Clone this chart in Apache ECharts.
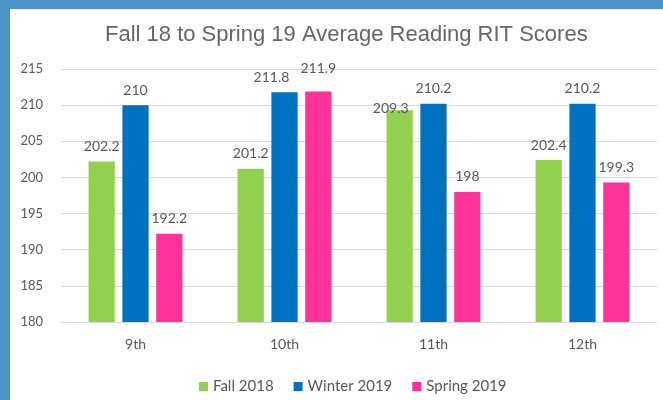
<!DOCTYPE html>
<html>
<head>
<meta charset="utf-8">
<script src="https://cdn.jsdelivr.net/npm/echarts@6/dist/echarts.min.js"></script>
<style>
  html, body { margin: 0; padding: 0; background: #fff; }
  #wrap { position: relative; width: 663px; height: 400px; }
  #chart { position: absolute; left: 0; top: 0; width: 663px; height: 400px; }
  .edge { position: absolute; background: #4a92c8; }
</style>
</head>
<body>
<div id="wrap">
  <div id="chart"></div>
  <div class="edge" style="left:0;top:0;width:663px;height:9px"></div>
  <div class="edge" style="left:0;top:0;width:10px;height:400px"></div>
</div>
<script>
  // grades on the x axis
  const grades = ['9th', '10th', '11th', '12th']
  // average RIT per term
  const fall2018 = [202.2, 201.2, 209.3, 202.4]
  const winter2019 = [210, 211.8, 210.2, 210.2]
  const spring2019 = [192.2, 211.9, 198, 199.3]
  const seriesNames = ['Fall 2018', 'Winter 2019', 'Spring 2019']
  const colors = ['#92d050', '#0070c0', '#ff3399']

  const font = 'Lato, "Open Sans", sans-serif'
  const grey = '#595959'

  // the original nudged a few labels so they don't collide
  const nudges = [
    { 2: [-9, 13] },
    { 1: [-13, 0] },
    { 1: [0, -8] }
  ]

  function bar(k, data) {
    const tw = nudges[k]
    return {
      name: seriesNames[k],
      type: 'bar',
      data: data.map(function (v, i) {
        if (!tw[i]) return v
        return { value: v, label: { offset: tw[i] } }
      }),
      barGap: '29%',
      barCategoryGap: '37%',
      itemStyle: { color: colors[k] },
      label: {
        show: true,
        position: 'top',
        distance: 8,
        color: grey,
        fontFamily: font,
        fontSize: 14
      }
    }
  }

  const chart = echarts.init(document.getElementById('chart'))
  chart.setOption({
    animation: false,
    title: {
      text: 'Fall 18 to Spring 19 Average Reading RIT Scores',
      left: 100,
      top: 19,
      textStyle: {
        color: '#666',
        fontFamily: '"Liberation Sans", Arial, sans-serif',
        fontWeight: 'normal',
        fontSize: 22
      }
    },
    color: colors,
    legend: {
      data: seriesNames,
      left: 194,
      top: 374,
      icon: 'rect',
      itemWidth: 9,
      itemHeight: 9,
      itemGap: 20,
      textStyle: { color: grey, fontFamily: font, fontSize: 15 }
    },
    grid: {
      left: 61,
      right: 6,
      top: 69,
      bottom: 78
    },
    xAxis: {
      type: 'category',
      data: grades,
      axisLine: { lineStyle: { color: '#d9d9d9' } },
      axisTick: { show: false },
      axisLabel: { color: grey, fontFamily: font, fontSize: 14, margin: 15 }
    },
    yAxis: {
      type: 'value',
      min: 180,
      max: 215,
      interval: 5,
      axisLine: { show: false },
      axisTick: { show: false },
      splitLine: { lineStyle: { color: '#d9d9d9' } },
      axisLabel: { color: grey, fontFamily: font, fontSize: 13, margin: 18 }
    },
    series: [
      bar(0, fall2018),
      bar(1, winter2019),
      bar(2, spring2019)
    ]
  })
</script>
</body>
</html>
